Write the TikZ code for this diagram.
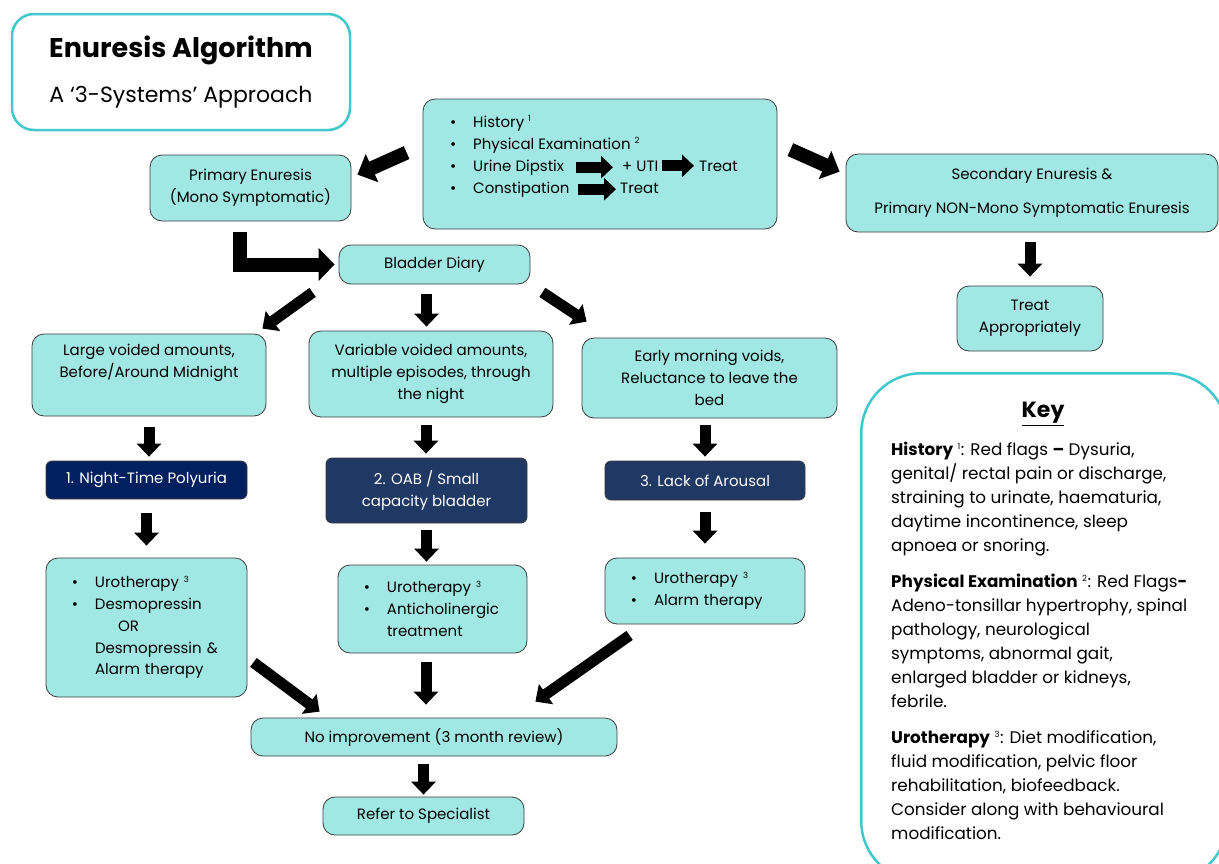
\documentclass[tikz,border=0pt]{standalone}
\usepackage{fontspec}
\setmainfont{Poppins}
\usetikzlibrary{arrows.meta}

\definecolor{boxfill}{RGB}{161,232,228}
\definecolor{keyline}{RGB}{64,200,204}
\definecolor{navyA}{RGB}{0,32,96}
\definecolor{navyB}{RGB}{32,56,100}
\definecolor{edgegray}{RGB}{60,60,60}

\newcommand{\bitem}{\hspace*{41pt}\llap{\textbullet\hspace{17pt}}}
\newcommand{\cont}{\hspace*{41pt}}
\newcommand{\fnote}[1]{\textsuperscript{\fontsize{8.5}{9}\selectfont #1}}
\newcommand{\boxfont}{\fontsize{15}{21.7}\selectfont}

\tikzset{
  box/.style={draw=edgegray, line width=0.8pt, fill=boxfill, rounded corners=12pt,
    align=center, font=\boxfont, inner sep=8pt},
  darkbox/.style={box, text=white, rounded corners=6pt},
  outline/.style={draw=keyline, line width=2.5pt, fill=white, align=center},
  line/.style={anchor=base west, inner sep=0pt, font=\boxfont},
  blk/.style={line width=11pt, -{Triangle[width=24pt,length=13pt]}},
  bigblk/.style={line width=14pt, -{Triangle[width=30pt,length=16pt]}},
  inl/.style={line width=11pt, -{Triangle[width=22pt,length=12pt]}}
}

\begin{document}
\begin{tikzpicture}[x=1pt,y=-1pt]
\clip (0,0) rectangle (1219,863);
\useasboundingbox (0,0) rectangle (1219,863);

\node[outline, rounded corners=22pt, minimum width=338, minimum height=116] (title) at (181,72)
  {{\fontsize{27}{31}\selectfont\bfseries Enuresis Algorithm}\\[20pt]
   {\fontsize{22}{26}\selectfont A ‘3-Systems’ Approach}};

\node[box, minimum width=354, minimum height=130] (top) at (600,164) {};
\node[line] (hist) at (473,127) {\llap{\textbullet\hspace{17pt}}History \fnote{1}};
\node[line] (phys) at (473,149) {\llap{\textbullet\hspace{17pt}}Physical Examination \fnote{2}};
\node[line] (dip) at (473,171) {\llap{\textbullet\hspace{17pt}}Urine Dipstix};
\node[line] (uti) at (622,171) {+ UTI};
\node[line] (trt1) at (699,171) {Treat};
\node[line] (con) at (473,193) {\llap{\textbullet\hspace{17pt}}Constipation};
\node[line] (trt2) at (620,193) {Treat};
\draw[inl, shorten <=12pt, shorten >=9pt] (dip.east) -- (dip.east -| uti.west);
\draw[inl, shorten <=3pt, shorten >=5pt] (uti.east) -- (uti.east -| trt1.west);
\draw[inl, shorten <=8pt, shorten >=4pt] (con.east) -- (con.east -| trt2.west);

\node[box, minimum width=201, minimum height=66] (prim) at (250.5,188) {Primary Enuresis\\(Mono Symptomatic)};
\node[box, minimum width=372, minimum height=78] (sec) at (1032,193) {Secondary Enuresis \&\\[12pt]Primary NON-Mono Symptomatic Enuresis};
\node[box, minimum width=146, minimum height=65] (treat) at (1030,318.5) {Treat\\Appropriately};
\node[box, minimum width=191, minimum height=39] (diary) at (434.5,264.5) {Bladder Diary};

\node[box, minimum width=234, minimum height=82] (large) at (149,375) {Large voided amounts,\\Before/Around Midnight\\\strut};
\node[box, minimum width=244, minimum height=86] (var) at (431,374) {Variable voided amounts,\\multiple episodes, through\\the night};
\node[box, minimum width=255, minimum height=80] (early) at (709.5,378) {Early morning voids,\\Reluctance to leave the\\bed};

\node[darkbox, fill=navyA, minimum width=201, minimum height=38] (night) at (146.5,480) {1. Night-Time Polyuria};
\node[darkbox, fill=navyB, minimum width=201, minimum height=65] (oab) at (426.5,490.5) {2. OAB / Small\\capacity bladder};
\node[darkbox, fill=navyB, minimum width=200, minimum height=39] (arousal) at (705,480.5) {3. Lack of Arousal};

\node[box, align=left, text width=185pt, minimum height=139] (uro1) at (146.5,627.5)
  {\bitem Urotherapy \fnote{3}\\\bitem Desmopressin\\\hspace*{64pt}OR\\\cont Desmopressin \&\\\cont Alarm therapy};
\node[box, align=left, text width=173pt, minimum height=88] (uro2) at (432.5,609)
  {\bitem Urotherapy \fnote{3}\\\bitem Anticholinergic\\\cont treatment};
\node[box, align=left, text width=184pt, minimum height=66] (uro3) at (705,591)
  {\bitem Urotherapy \fnote{3}\\\bitem Alarm therapy};

\node[box, minimum width=366, minimum height=38] (noimp) at (434,737) {No improvement (3 month review)};
\node[box, minimum width=201, minimum height=38] (refer) at (423.5,816) {Refer to Specialist};

\node[outline, rounded corners=60pt, minimum width=366, minimum height=508, anchor=north west] (keybox) at (860,372) {};
\node[font=\fontsize{22}{26}\selectfont\bfseries] (keyttl) at (1043,414) {\underline{Key}};
\node[anchor=north west, align=left, inner sep=0pt, font=\fontsize{16.8}{24}\selectfont] (keytxt) at (891,442)
  {\textbf{History} \fnote{1}: Red flags \textbf{--} Dysuria,\\
   genital/ rectal pain or discharge,\\
   straining to urinate, haematuria,\\
   daytime incontinence, sleep\\
   apnoea or snoring.\\[12pt]
   \textbf{Physical Examination} \fnote{2}: Red Flags\textbf{-}\\
   Adeno-tonsillar hypertrophy, spinal\\
   pathology, neurological\\
   symptoms, abnormal gait,\\
   enlarged bladder or kidneys,\\
   febrile.\\[12pt]
   \textbf{Urotherapy} \fnote{3}: Diet modification,\\
   fluid modification, pelvic floor\\
   rehabilitation, biofeedback.\\
   Consider along with behavioural\\
   modification.};

\draw[bigblk] ([shift={(-16,54)}]top.north west) -- ([shift={(6,20)}]prim.north east);
\draw[bigblk] ([shift={(13,51)}]top.north east) -- ([shift={(-6,18)}]sec.north west);
\draw[line width=14pt, -{Triangle[width=32pt,length=16pt]}, shorten <=11pt, shorten >=4pt]
  ([xshift=-11pt]prim.south) |- (diary.west);
\draw[blk, shorten >=9pt, shorten <=10pt] (sec.south -| treat.north) -- (treat.north);

\draw[blk] ([shift={(-26,8)}]diary.south west) -- ([shift={(-4,-5)}]large.north east);
\draw[blk, shorten <=10pt, shorten >=4pt] ([xshift=-8pt]diary.south) -- ([xshift=-8pt]diary.south |- var.north);
\draw[blk] ([shift={(12,8)}]diary.south east) -- ([shift={(5,-16)}]early.north west);

\draw[blk, shorten <=11pt, shorten >=4pt] (large.south) -- (large.south |- night.north);
\draw[blk, shorten <=8pt, shorten >=4pt] ([xshift=-5pt]var.south) -- ([xshift=-5pt]var.south |- oab.north);
\draw[blk, shorten <=7pt, shorten >=4pt] (early.south -| arousal.north) -- (arousal.north);

\draw[blk, shorten <=14pt, shorten >=12pt] (night.south) -- (night.south |- uro1.north);
\draw[blk, shorten <=7pt, shorten >=3pt] (oab.south) -- (oab.south |- uro2.north);
\draw[blk, shorten <=12pt, shorten >=14pt] (arousal.south) -- (arousal.south |- uro3.north);

\draw[blk] ([shift={(6,-35)}]uro1.south east) -- ([shift={(69,-6)}]noimp.north west);
\draw[blk, shorten <=9pt, shorten >=13pt] ([xshift=-6.5pt]uro2.south) -- ([xshift=-6.5pt]uro2.south |- noimp.north);
\draw[blk] ([shift={(25,11)}]uro3.south west) -- ([shift={(-82,-16)}]noimp.north east);
\draw[blk, shorten <=8pt, shorten >=2pt] (refer.north |- noimp.south) -- (refer.north);
\end{tikzpicture}
\end{document}
